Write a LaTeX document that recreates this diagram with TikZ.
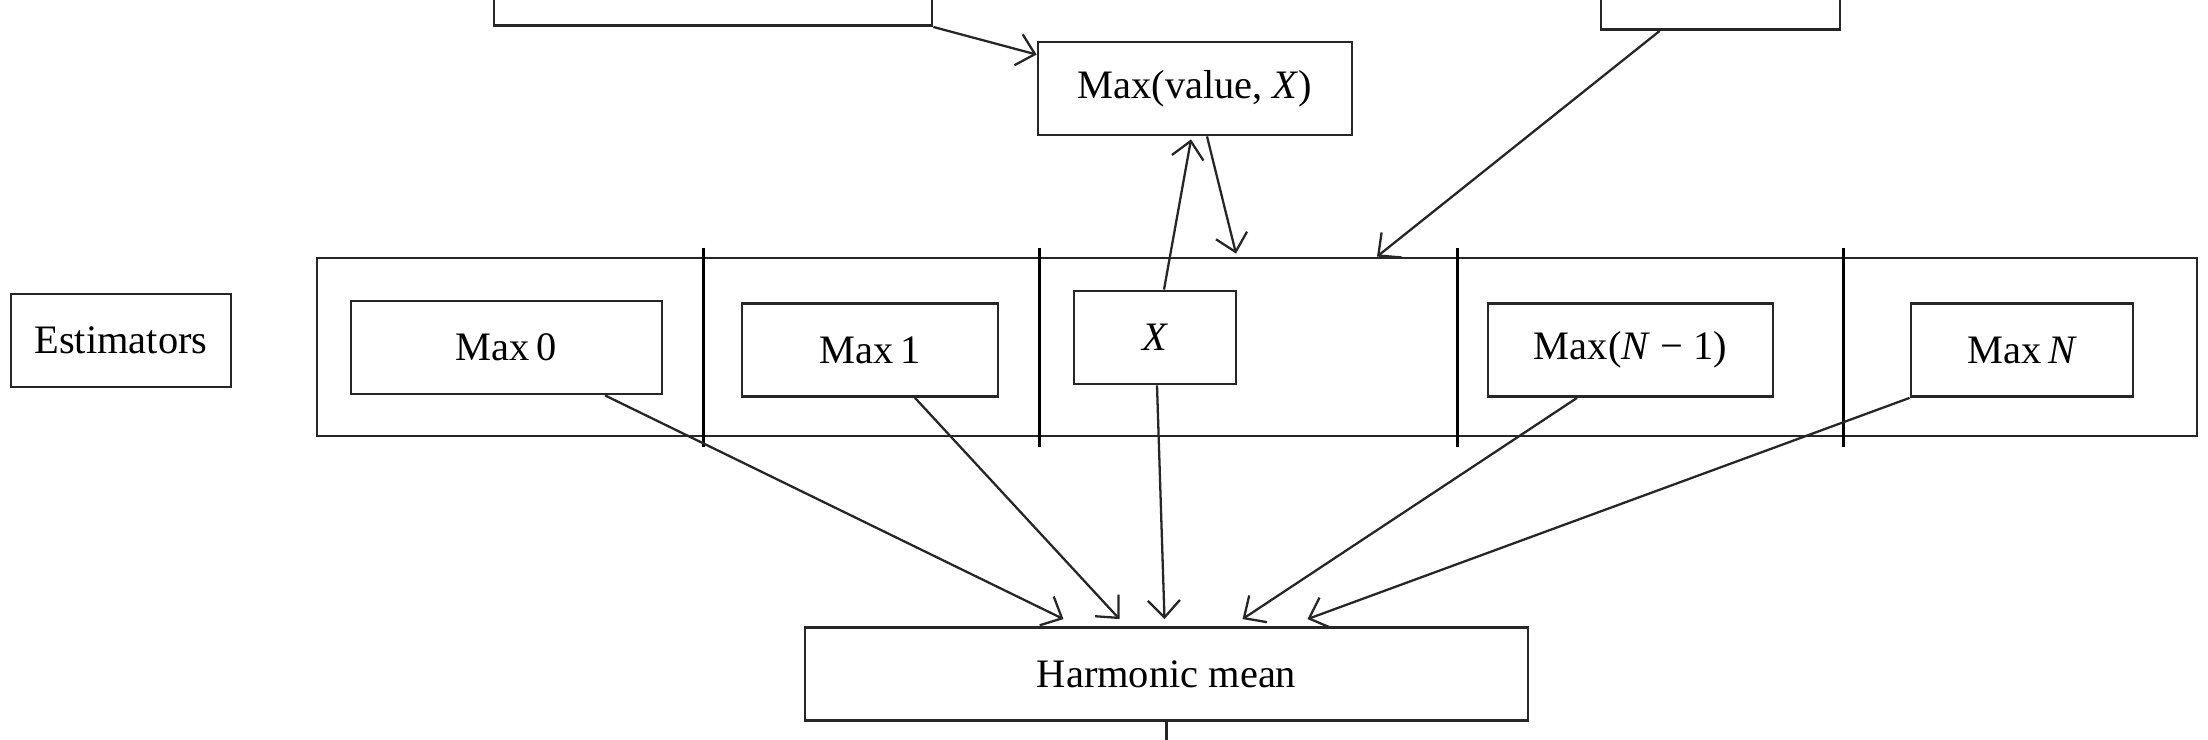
\documentclass[tikz,border=0pt]{standalone}
\usepackage{fontspec}
\setmainfont{Liberation Serif}
\usetikzlibrary{
  arrows.meta,
  positioning,
}
\tikzset{
  box/.style={
    rectangle,
    draw=black!85,
    line width=0.8pt,
    inner sep=0pt,
    minimum height=0.93cm,
    text centered,
    font=\fontsize{11.5}{13}\selectfont,
  },
  frame/.style={
    rectangle,
    draw=black!85,
    line width=0.8pt,
    minimum width=18.8cm,
    minimum height=1.78cm,
  },
  arrow/.style={
    draw=black!85,
    line width=0.65pt,
    -{Straight Barb[length=1.7mm,width=3.2mm]},
  },
}

\begin{document}
\begin{tikzpicture}

  \path[use as bounding box, clip] (0,0) rectangle (22.08,-7.40);

  % boxes cut off at the top edge
  \node[box, minimum width=4.38cm, minimum height=1cm, anchor=south] (srcl) at (7.13,-0.27) {};
  \node[box, minimum width=2.39cm, minimum height=1cm, anchor=south] (srcr) at (17.205,-0.31) {};

  \node[box, minimum width=3.14cm] (maxv) at (11.95,-0.885) {Max(value, \textit{X})};

  \node[box, minimum width=2.20cm] (est) at (1.21,-3.405) {Estimators};

  % row of estimators
  \node[frame] (row) at (12.57,-3.47) {};
  \foreach \dx in {3.88,7.24,11.42,15.28}
    \draw[line width=0.65pt, black] ([xshift=\dx cm, yshift=0.09cm]row.north west) -- ++(0,-1.99);

  \node[box, minimum width=3.11cm] (m0) at (5.065,-3.475) {Max\,0};
  \node[box, minimum width=2.56cm] (m1) at (8.70,-3.50) {Max\,1};
  \node[box, minimum width=1.62cm] (x) at (11.55,-3.375) {\textit{X}};
  \node[box, minimum width=2.85cm] (mn1) at (16.305,-3.50) {Max(\textit{N} − 1)};
  \node[box, minimum width=2.22cm] (mn) at (20.22,-3.50) {Max\,\textit{N}};

  \node[box, minimum width=7.23cm] (hm) at (11.665,-6.74) {Harmonic mean};
  \coordinate (out) at (11.665,-7.6);

  \draw[arrow] (srcl.south east) -- ([yshift=-0.14cm]maxv.north west);
  \draw[arrow] ([xshift=0.6cm]srcr.south west) -- ([xshift=1.2cm]row.north);
  \draw[arrow] ([xshift=0.09cm]x.north) -- ([xshift=-0.04cm, yshift=-0.03cm]maxv.south);
  \draw[arrow] ([xshift=0.12cm]maxv.south) -- ([xshift=-0.21cm, yshift=0.03cm]row.north);

  \draw[arrow] ([xshift=0.985cm]m0.south) -- ([xshift=-1.03cm, yshift=0.07cm]hm.north);
  \draw[arrow] ([xshift=0.45cm]m1.south) -- ([xshift=-0.47cm, yshift=0.07cm]hm.north);
  \draw[arrow] ([xshift=0.02cm]x.south) -- ([xshift=-0.02cm, yshift=0.07cm]hm.north);
  \draw[arrow] ([xshift=-0.535cm]mn1.south) -- ([xshift=0.76cm, yshift=0.07cm]hm.north);
  \draw[arrow] (mn.south west) -- ([xshift=1.41cm, yshift=0.07cm]hm.north);

  \draw[line width=0.65pt, black!85] (hm.south) -- (out);

\end{tikzpicture}
\end{document}
